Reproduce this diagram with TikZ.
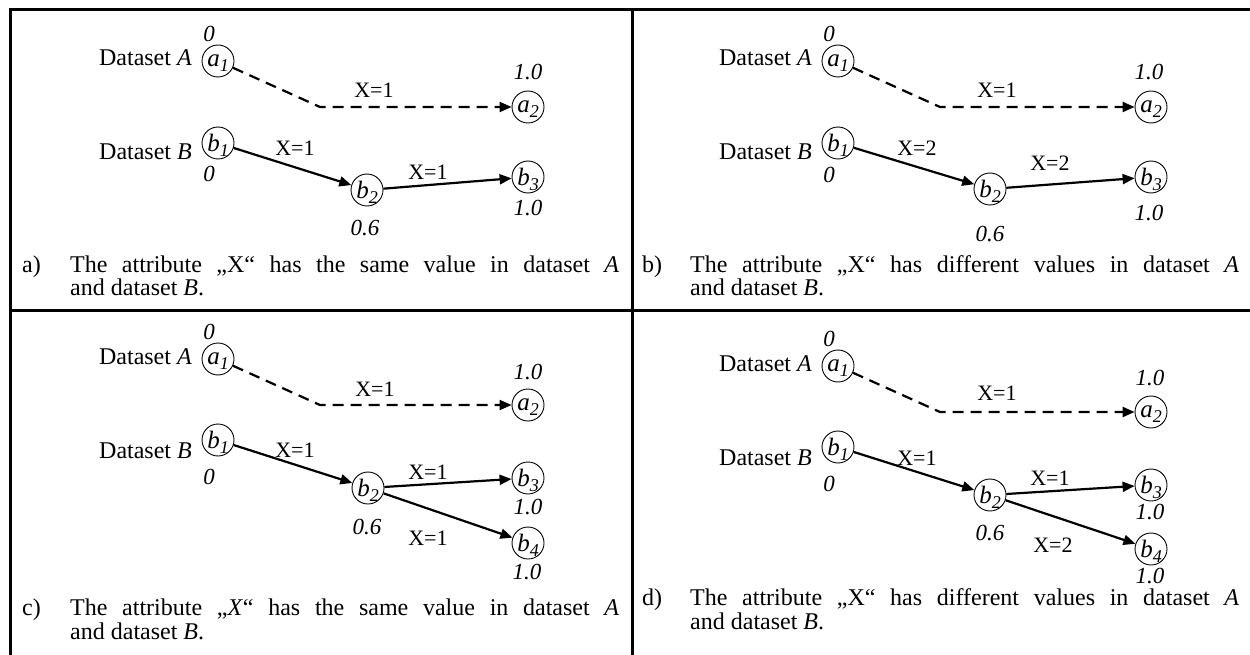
\documentclass[tikz,border=0pt]{standalone}
\usepackage{fontspec}
\setmainfont{Liberation Serif}
\usetikzlibrary{arrows.meta}
\newcommand\subidx[1]{\raisebox{-5pt}{\fontsize{18}{18}\selectfont\itshape #1}}
\begin{document}
\begin{tikzpicture}[x=1pt,y=-1pt,
  st/.style={circle,draw,line width=0.9pt,minimum size=32pt,inner sep=0pt,text depth=0pt,font=\fontsize{25}{26}\selectfont\itshape},
  lab/.style={anchor=base east,inner sep=0pt,font=\fontsize{24}{24}\selectfont},
  num/.style={inner sep=0pt,font=\fontsize{23}{24}\selectfont\itshape},
  xl/.style={inner sep=0pt,font=\fontsize{22}{24}\selectfont},
  conn/.style={line width=2.2pt,-{Triangle[length=12pt,width=10pt]}},
  dconn/.style={conn,dash pattern=on 11pt off 7pt},
  captext/.style={anchor=base west,inner sep=0pt,text width=549pt,align=justify,font=\fontsize{24}{24}\selectfont},
  tag/.style={anchor=base west,inner sep=0pt,font=\fontsize{24}{24}\selectfont},
  frame/.style={line width=3pt}]
\useasboundingbox (0,0) rectangle (1250,655);
% frame
\draw[frame] (10,655) -- (10,10) -- (1250,10);
\draw[frame] (632,10) -- (632,655);
\draw[frame] (10,310) -- (1250,310);

% ---------- panel a ----------
\node[st] (a1a) at (218,61) {a\subidx{1}};
\node[st] (a2a) at (528,107) {a\subidx{2}};
\node[st] (b1a) at (218,143) {b\subidx{1}};
\node[st] (b2a) at (367,190) {b\subidx{2}};
\node[st] (b3a) at (528,177) {b\subidx{3}};
\coordinate (ka) at (320,107);
\node[lab] (dAa) at (192,66) {Dataset \textit{A}};
\node[lab] (dBa) at (192,160) {Dataset \textit{B}};
\node[num] (n1a) at (209,34) {0};
\node[num] (n2a) at (528,72) {1.0};
\node[num] (n3a) at (209,174) {0};
\node[num] (n4a) at (528,208) {1.0};
\node[num] (n5a) at (365,228) {0.6};
\node[xl] (x1a) at (374,90) {X=1};
\node[xl] (x2a) at (295,148) {X=1};
\node[xl] (x3a) at (428,172) {X=1};
\draw[dconn] (a1a) -- (ka) -- (a2a);
\draw[conn] (b1a) -- (b2a);
\draw[conn] (b2a) -- (b3a);
\node[tag] (ta) at (22,272) {a)};
\node[captext] (ca) at (70,272) {The attribute „X“ has the same value in dataset \textit{A}\linebreak and dataset \textit{B}.};

% ---------- panel b ----------
\node[st] (a1b) at (838,61) {a\subidx{1}};
\node[st] (a2b) at (1151,107) {a\subidx{2}};
\node[st] (b1b) at (838,143) {b\subidx{1}};
\node[st] (b2b) at (990,189) {b\subidx{2}};
\node[st] (b3b) at (1151,177) {b\subidx{3}};
\coordinate (kb) at (940,107);
\node[lab] (dAb) at (812,66) {Dataset \textit{A}};
\node[lab] (dBb) at (812,160) {Dataset \textit{B}};
\node[num] (n1b) at (829,34) {0};
\node[num] (n2b) at (1149,72) {1.0};
\node[num] (n3b) at (829,175) {0};
\node[num] (n4b) at (1149,213) {1.0};
\node[num] (n5b) at (990,234) {0.6};
\node[xl] (x1b) at (997,90) {X=1};
\node[xl] (x2b) at (917,148) {X=2};
\node[xl] (x3b) at (1050,163) {X=2};
\draw[dconn] (a1b) -- (kb) -- (a2b);
\draw[conn] (b1b) -- (b2b);
\draw[conn] (b2b) -- (b3b);
\node[tag] (tb) at (642,272) {b)};
\node[captext] (cb) at (690,272) {The attribute „X“ has different values in dataset \textit{A}\linebreak and dataset \textit{B}.};

% ---------- panel c ----------
\node[st] (a1c) at (218,359) {a\subidx{1}};
\node[st] (a2c) at (528,405) {a\subidx{2}};
\node[st] (b1c) at (218,440) {b\subidx{1}};
\node[st] (b2c) at (368,488) {b\subidx{2}};
\node[st] (b3c) at (528,478) {b\subidx{3}};
\node[st] (b4c) at (528,543) {b\subidx{4}};
\coordinate (kc) at (320,405);
\node[lab] (dAc) at (192,364) {Dataset \textit{A}};
\node[lab] (dBc) at (192,458) {Dataset \textit{B}};
\node[num] (n1c) at (209,332) {0};
\node[num] (n2c) at (528,372) {1.0};
\node[num] (n3c) at (209,477) {0};
\node[num] (n4c) at (528,507) {1.0};
\node[num] (n5c) at (367,527) {0.6};
\node[num] (n6c) at (527,572) {1.0};
\node[xl] (x1c) at (375,389) {X=1};
\node[xl] (x2c) at (295,450) {X=1};
\node[xl] (x3c) at (428,472) {X=1};
\node[xl] (x4c) at (428,538) {X=1};
\draw[dconn] (a1c) -- (kc) -- (a2c);
\draw[conn] (b1c) -- (b2c);
\draw[conn] (b2c) -- (b3c);
\draw[conn] (b2c) -- (b4c);
\node[tag] (tc) at (22,615) {c)};
\node[captext] (cc) at (70,615) {The attribute „\textit{X}“ has the same value in dataset \textit{A}\linebreak and dataset \textit{B}.};

% ---------- panel d ----------
\node[st] (a1d) at (838,366) {a\subidx{1}};
\node[st] (a2d) at (1151,412) {a\subidx{2}};
\node[st] (b1d) at (838,447) {b\subidx{1}};
\node[st] (b2d) at (990,495) {b\subidx{2}};
\node[st] (b3d) at (1151,485) {b\subidx{3}};
\node[st] (b4d) at (1151,549) {b\subidx{4}};
\coordinate (kd) at (940,412);
\node[lab] (dAd) at (812,371) {Dataset \textit{A}};
\node[lab] (dBd) at (812,465) {Dataset \textit{B}};
\node[num] (n1d) at (829,339) {0};
\node[num] (n2d) at (1150,378) {1.0};
\node[num] (n3d) at (829,484) {0};
\node[num] (n4d) at (1150,512) {1.0};
\node[num] (n5d) at (990,533) {0.6};
\node[num] (n6d) at (1150,576) {1.0};
\node[xl] (x1d) at (997,393) {X=1};
\node[xl] (x2d) at (917,458) {X=1};
\node[xl] (x3d) at (1050,478) {X=1};
\node[xl] (x4d) at (1053,545) {X=2};
\draw[dconn] (a1d) -- (kd) -- (a2d);
\draw[conn] (b1d) -- (b2d);
\draw[conn] (b2d) -- (b3d);
\draw[conn] (b2d) -- (b4d);
\node[tag] (td) at (642,605) {d)};
\node[captext] (cd) at (690,605) {The attribute „X“ has different values in dataset \textit{A}\linebreak and dataset \textit{B}.};
\end{tikzpicture}
\end{document}
